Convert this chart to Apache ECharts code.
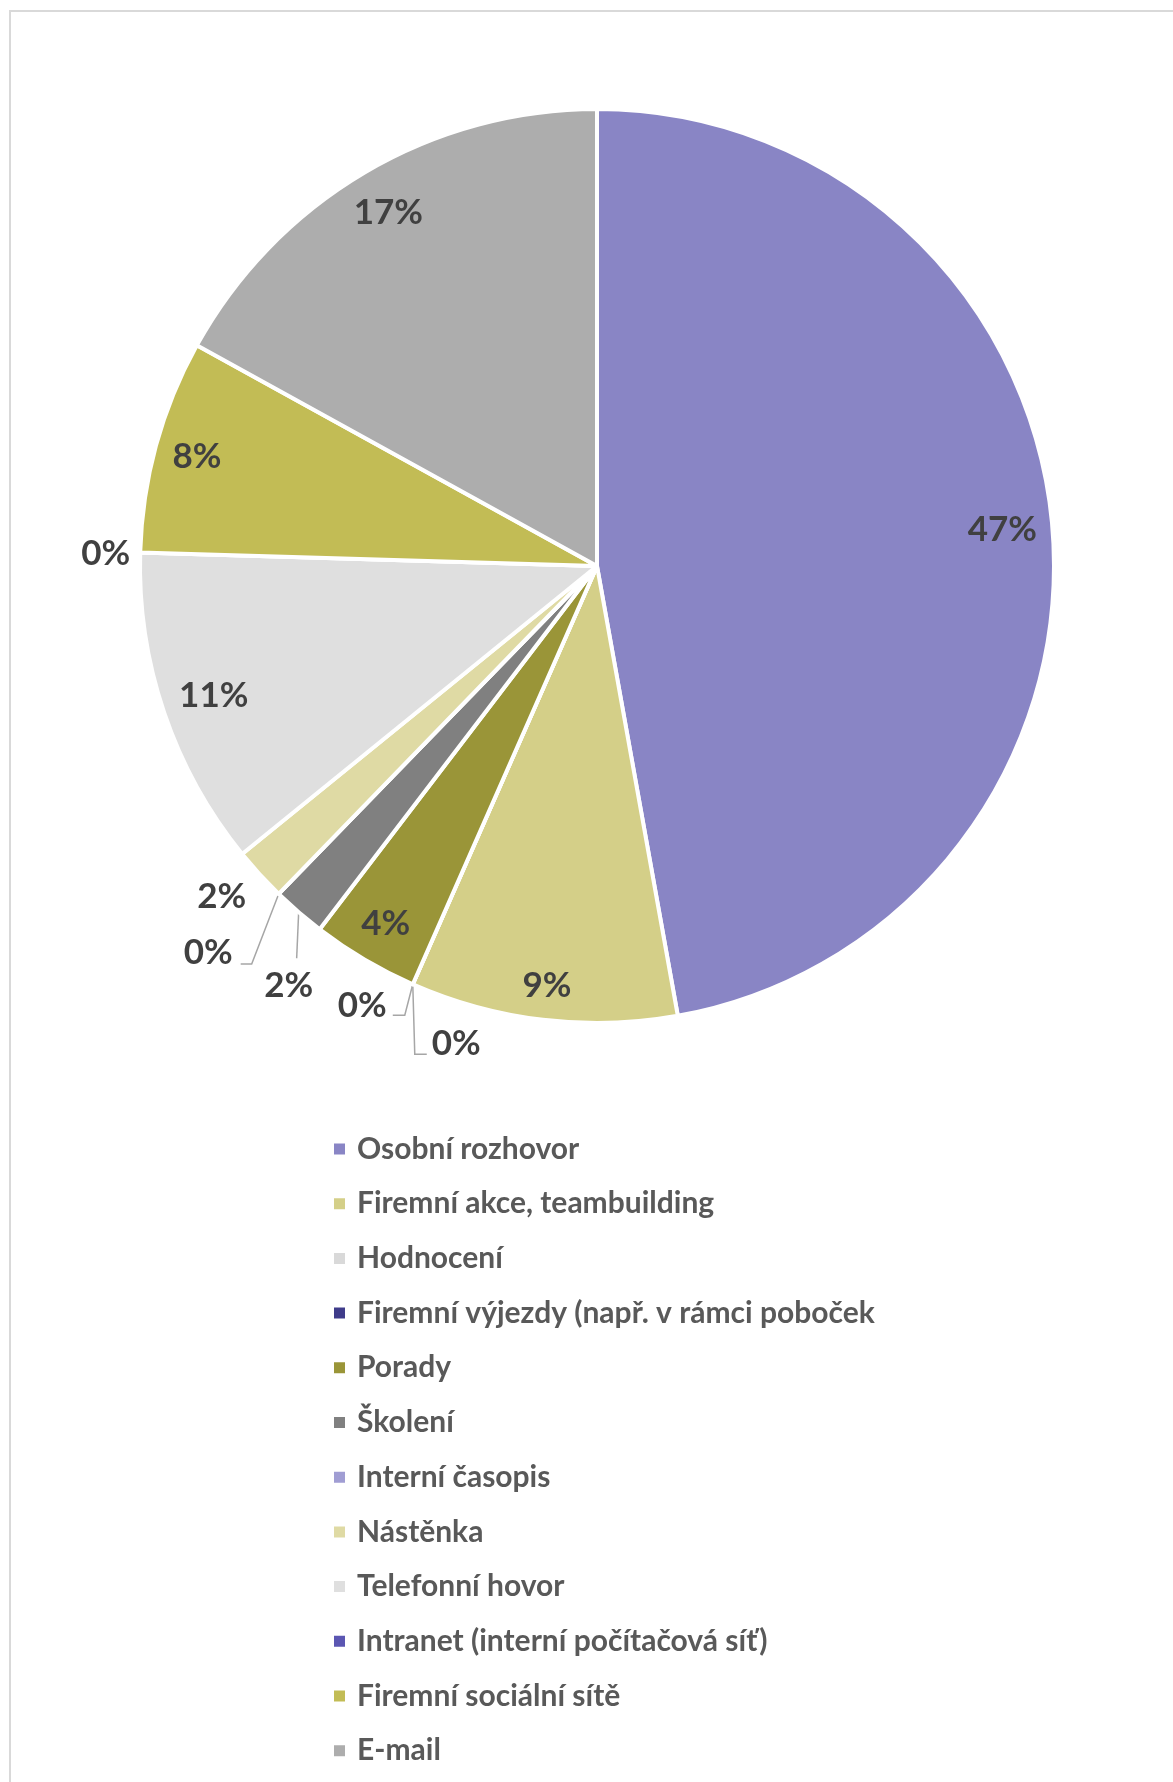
<!DOCTYPE html>
<html>
<head>
<meta charset="utf-8">
<script src="https://cdn.jsdelivr.net/npm/echarts@6/dist/echarts.min.js"></script>
<style>
  html, body { margin: 0; padding: 0; background: #ffffff; }
  #chart { width: 1173px; height: 1782px; }
</style>
</head>
<body>
<div id="chart"></div>
<script>
// Communication channels and number of responses for each
const categories = [
  'Osobní rozhovor',
  'Firemní akce, teambuilding',
  'Hodnocení',
  'Firemní výjezdy (např. v rámci poboček',
  'Porady',
  'Školení',
  'Interní časopis',
  'Nástěnka',
  'Telefonní hovor',
  'Intranet (interní počítačová síť)',
  'Firemní sociální sítě',
  'E-mail'
];
const responses = [25, 5, 0, 0, 2, 1, 0, 1, 6, 0, 4, 9];
const sliceColors = [
  '#8985C5', '#D4CF88', '#D9D9D9', '#3F3C8A', '#9A9538', '#808080',
  '#A09DD3', '#DFDAA4', '#DFDFDF', '#5B56B2', '#C2BC55', '#ADADAD'
];

const FONT = 'Lato';
const total = responses.reduce((a, b) => a + b, 0);
const pct = v => Math.round(v / total * 100) + '%';
// slices wide enough to carry their label inside
const fitsInside = v => v / total >= 0.03;

// Placement of labels that sit outside the pie, relative to the point
// where the slice meets the rim: leader elbow, horizontal tail, text anchor.
const outsidePlacement = {
  'Hodnocení':                              { elbow: [-8, 31],  tail: -12, gap: -6, lift: -10, align: 'right' },
  'Firemní výjezdy (např. v rámci poboček': { elbow: [2, 70],   tail: 12,  gap: 5,  lift: -11, align: 'left' },
  'Školení':                                { elbow: [-2, 46],  tail: 0,   gap: -8, lift: 28,  align: 'center' },
  'Interní časopis':                        { elbow: [-27, 70], tail: -11, gap: -8, lift: -11, align: 'right' },
  'Nástěnka':                               { elbow: [0, 0],    tail: 0,   gap: -38, lift: 22, align: 'center' },
  'Intranet (interní počítačová síť)':      { elbow: [0, 0],    tail: 0,   gap: -10, lift: 1,  align: 'right' }
};

const CENTER = [597, 566];
const RADIUS = 457;          // outer edge; the white border eats 2px of it
const RIM_MARGIN = 12;       // space kept between an inside label and the rim

const mainData = categories.map((name, i) => ({
  name: name,
  value: responses[i],
  itemStyle: { color: sliceColors[i] },
  label: { show: !fitsInside(responses[i]) },
  labelLine: { show: !fitsInside(responses[i]) }
}));

const insideLabelData = categories.map((name, i) => ({
  name: name,
  value: responses[i],
  label: { show: fitsInside(responses[i]) }
}));

const chart = echarts.init(document.getElementById('chart'), null, { renderer: 'canvas' });

chart.setOption({
  backgroundColor: '#ffffff',
  animation: false,
  graphic: [{
    type: 'rect',
    silent: true,
    shape: { x: 10, y: 11, width: 1400, height: 2000 },
    style: { fill: 'none', stroke: '#D9D9D9', lineWidth: 2 }
  }],
  legend: {
    orient: 'vertical',
    left: 332,
    top: 1131,
    padding: 0,
    data: categories,
    icon: 'rect',
    itemWidth: 13,
    itemHeight: 13,
    itemGap: 18.7,
    selectedMode: false,
    textStyle: {
      fontFamily: FONT,
      fontWeight: 'bold',
      fontSize: 30,
      lineHeight: 36,
      color: '#595959',
      padding: [0, 0, 0, 6]
    }
  },
  series: [
    {
      // the slices, with the labels that live outside the rim
      type: 'pie',
      center: CENTER,
      radius: [0, RADIUS],
      startAngle: 90,
      clockwise: true,
      avoidLabelOverlap: false,
      emphasis: { disabled: true },
      itemStyle: { borderColor: '#ffffff', borderWidth: 4 },
      label: {
        position: 'outside',
        formatter: p => pct(p.value),
        fontFamily: FONT,
        fontWeight: 'bold',
        fontSize: 35,
        color: '#404040'
      },
      labelLine: {
        length: 10,
        length2: 10,
        lineStyle: { color: '#A6A6A6', width: 1.5 }
      },
      labelLayout: function (params) {
        const cfg = outsidePlacement[categories[params.dataIndex]];
        if (!cfg || !params.labelLinePoints) return {};
        const e = params.labelLinePoints[0];
        const p2 = [e[0] + cfg.elbow[0], e[1] + cfg.elbow[1]];
        const p3 = [p2[0] + cfg.tail, p2[1]];
        return {
          x: p3[0] + cfg.gap,
          y: p3[1] + cfg.lift,
          align: cfg.align,
          verticalAlign: 'middle',
          labelLinePoints: [e, p2, p3]
        };
      },
      data: mainData
    },
    {
      // in-slice percentages, pushed out until the text box nearly meets the rim
      type: 'pie',
      center: CENTER,
      radius: [359, RADIUS],
      startAngle: 90,
      clockwise: true,
      silent: true,
      avoidLabelOverlap: false,
      emphasis: { disabled: true },
      itemStyle: { color: 'rgba(0,0,0,0)', borderWidth: 0 },
      label: {
        position: 'inside',
        formatter: p => pct(p.value),
        fontFamily: FONT,
        fontWeight: 'bold',
        fontSize: 35,
        color: '#404040'
      },
      labelLine: { show: false },
      labelLayout: function (params) {
        const r = params.labelRect;
        if (!r || !r.width) return {};
        const cx = r.x + r.width / 2 - CENTER[0];
        const cy = r.y + r.height / 2 - CENTER[1];
        const len = Math.hypot(cx, cy) || 1;
        const ux = cx / len, uy = cy / len;
        const t = (RADIUS - 2) - RIM_MARGIN
          - (Math.abs(ux) * r.width / 2 + Math.abs(uy) * r.height / 2);
        return {
          x: CENTER[0] + ux * t,
          y: CENTER[1] + uy * t,
          align: 'center',
          verticalAlign: 'middle'
        };
      },
      data: insideLabelData
    }
  ]
});
</script>
</body>
</html>
